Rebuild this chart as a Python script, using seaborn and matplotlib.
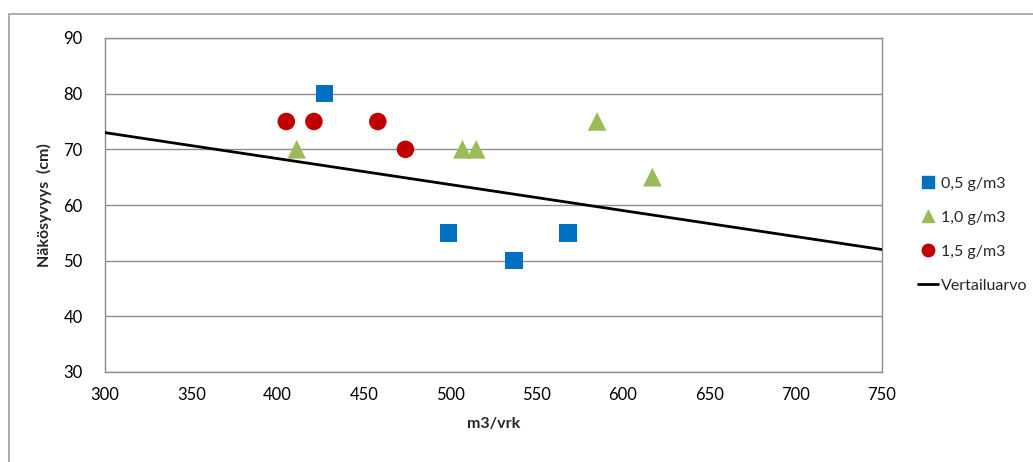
import matplotlib
matplotlib.use("Agg")
import matplotlib.pyplot as plt
import seaborn as sns
import pandas as pd
from matplotlib.patches import Rectangle
from matplotlib.lines import Line2D

# Data
x_05 = [427, 499, 537, 568]
y_05 = [80, 55, 50, 55]
x_10 = [411, 507, 515, 585, 617]
y_10 = [70, 70, 70, 75, 65]
x_15 = [405, 421, 458, 474]
y_15 = [75, 75, 75, 70]
ref_x = [300, 750]
ref_y = [73, 52]
series_names = ["0,5 g/m3", "1,0 g/m3", "1,5 g/m3", "Vertailuarvo"]
x_ticks = [300, 350, 400, 450, 500, 550, 600, 650, 700, 750]
y_ticks = [30, 40, 50, 60, 70, 80, 90]

sns.set_theme(style="white")
plt.rcParams['font.family'] = ['Lato', 'DejaVu Sans']

df = pd.DataFrame({
    "x": x_05 + x_10 + x_15,
    "y": y_05 + y_10 + y_15,
    "s": [series_names[0]] * len(x_05) + [series_names[1]] * len(x_10) + [series_names[2]] * len(x_15),
})

W, H = 1033, 462
fig = plt.figure(figsize=(W / 100, H / 100), dpi=100)
ax = fig.add_axes([105 / W, 1 - 372 / H, (882 - 105) / W, (372 - 38) / H])

# outer chart border
fig.patches.append(Rectangle((9 / W, -0.1), 1.2, 1 - 14 / H + 0.1, transform=fig.transFigure,
                             fill=False, edgecolor="#a6a6a6", linewidth=1.3, zorder=0))

ax.plot(ref_x, ref_y, color="black", linewidth=2, zorder=3)
palette = {series_names[0]: "#0070C0", series_names[1]: "#9BBB59", series_names[2]: "#C00000"}
markers = {series_names[0]: "s", series_names[1]: "^", series_names[2]: "o"}
sizes = {series_names[0]: 160, series_names[1]: 180, series_names[2]: 160}
for name in series_names[:3]:
    sub = df[df.s == name]
    sns.scatterplot(data=sub, x="x", y="y", ax=ax, color=palette[name], marker=markers[name],
                    s=sizes[name], edgecolor="none", zorder=4, legend=False)

ax.set_xlim(300, 750)
ax.set_ylim(30, 90)
ax.set_xticks(x_ticks)
ax.set_yticks(y_ticks)
ax.set_xticklabels([str(v) for v in x_ticks], fontsize=12, color="black")
ax.set_yticklabels([str(v) for v in y_ticks], fontsize=12, color="black")
ax.tick_params(axis="both", length=0)
ax.tick_params(axis="x", pad=11)
ax.tick_params(axis="y", pad=16)
ax.grid(axis="y", color="#8c8c8c", linewidth=1)
for sp in ax.spines.values():
    sp.set_color("#8c8c8c")
    sp.set_linewidth(1)
ax.set_xlabel("m3/vrk", fontsize=11.5, fontweight="bold", labelpad=10)
ax.set_ylabel("Näkösyvyys  (cm)", fontsize=11.5, fontweight="bold", labelpad=8)

handles = [
    Line2D([], [], linestyle="none", marker="s", color="#0070C0", markersize=9),
    Line2D([], [], linestyle="none", marker="^", color="#9BBB59", markersize=9),
    Line2D([], [], linestyle="none", marker="o", color="#C00000", markersize=9),
    Line2D([], [], color="black", linewidth=2),
]
fig.legend(handles, series_names, loc="upper left", bbox_to_anchor=(912 / W, 1 - 170 / H),
           frameon=False, fontsize=11.5, handlelength=1.2, handletextpad=0.2,
           labelspacing=1.25, borderaxespad=0)

fig.savefig("out.png", dpi=100)
